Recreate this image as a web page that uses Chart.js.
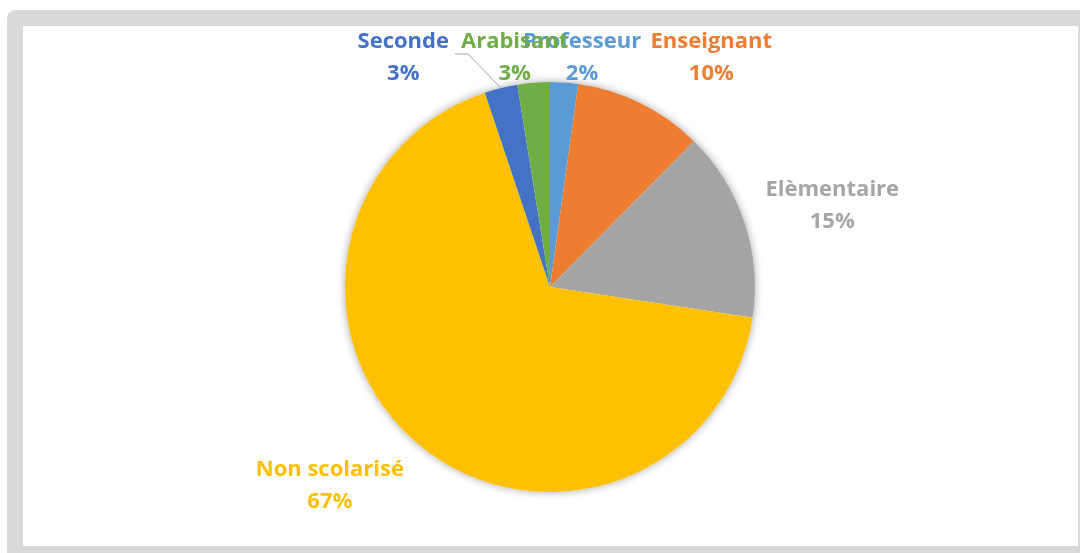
<!DOCTYPE html>
<html>
<head>
<meta charset="utf-8">
<script src="https://cdn.jsdelivr.net/npm/chart.js@4"></script>
<style>
    html, body { margin: 0; padding: 0; background: #fff; width: 1080px; height: 553px; overflow: hidden; }
    #frame { position: absolute; left: 7px; top: 10px; width: 1090px; height: 560px; background: #d9d9d9; border-radius: 8px; }
    #inner { position: absolute; left: 23px; top: 26px; width: 1055px; height: 520px; background: #fff; }
    #wrap { position: absolute; left: 0; top: 0; width: 1080px; height: 553px; }
</style>
</head>
<body>
<div id="frame"></div>
<div id="inner"></div>
<div id="wrap"><canvas id="pieChart"></canvas></div>
<script>
const categories = ['Professeur', 'Enseignant', 'Elèmentaire', 'Non scolarisé', 'Seconde', 'Arabisant'];
const shares = [2.2, 10.2, 15.0, 67.45, 2.6, 2.55];
const sliceColors = ['#5b9bd5', '#ed7d31', '#a5a5a5', '#ffc000', '#4472c4', '#70ad47'];

const labelFont = 'bold 22px "Open Sans"';
const lineGap = 32;

// soft shadow behind the pie, like the Excel one
const pieShadow = {
    id: 'pieShadow',
    beforeDatasetsDraw(chart) {
        const arc = chart.getDatasetMeta(0).data[0];
        if (!arc) return;
        const ctx = chart.ctx;
        ctx.save();
        ctx.shadowColor = 'rgba(0, 0, 0, 0.35)';
        ctx.shadowBlur = 9;
        ctx.fillStyle = '#fff';
        ctx.beginPath();
        ctx.arc(arc.x, arc.y, arc.outerRadius, 0, Math.PI * 2);
        ctx.fill();
        ctx.restore();
    }
};

// outside-end data labels with a very rough "best fit"
const outsideLabels = {
    id: 'outsideLabels',
    afterDraw(chart) {
        const ctx = chart.ctx;
        const meta = chart.getDatasetMeta(0);
        const values = chart.data.datasets[0].data;
        const total = values.reduce((a, b) => a + b, 0);
        const plotTop = 26;
        ctx.save();
        ctx.font = labelFont;
        const boxes = meta.data.map((arc, i) => {
            const lines = [chart.data.labels[i], Math.round(values[i] / total * 100) + '%'];
            const w = Math.max(...lines.map(t => ctx.measureText(t).width));
            const h = lineGap * 2;
            const mid = (arc.startAngle + arc.endAngle) / 2;
            const c = Math.cos(mid), s = Math.sin(mid);
            const r = arc.outerRadius + 22;
            const px = arc.x + r * c, py = arc.y + r * s;
            let cx = px + Math.sign(c) * Math.min(1, Math.abs(c) * 4) * w / 2;
            let cy = py + s * h / 2;
            if (cy - h / 2 < plotTop) cy = plotTop + h / 2;
            return { lines, w, h, cx, cy, mid, arc, moved: false };
        });
        // push a label back if it runs into the next one
        for (let i = 0; i < boxes.length - 1; i++) {
            const a = boxes[i], b = boxes[i + 1];
            const overlapY = Math.abs(a.cy - b.cy) < (a.h + b.h) / 2;
            const aRight = a.cx + a.w / 2, bLeft = b.cx - b.w / 2;
            if (overlapY && a.cx < b.cx && aRight > bLeft) {
                a.cx = bLeft - 12 - a.w / 2;
                a.moved = true;
            }
        }
        boxes.forEach((b, i) => {
            if (b.moved) {
                const ex = b.arc.x + b.arc.outerRadius * Math.cos(b.mid);
                const ey = b.arc.y + b.arc.outerRadius * Math.sin(b.mid);
                const sx = b.cx + b.w / 2 + 6, sy = b.cy - 4;
                ctx.strokeStyle = '#a6a6a6';
                ctx.lineWidth = 1;
                ctx.beginPath();
                ctx.moveTo(sx, sy);
                ctx.lineTo(sx + 13, sy);
                ctx.lineTo(ex, ey);
                ctx.stroke();
            }
            ctx.fillStyle = sliceColors[i];
            ctx.textAlign = 'center';
            ctx.textBaseline = 'middle';
            ctx.fillText(b.lines[0], b.cx, b.cy - lineGap / 2);
            ctx.fillText(b.lines[1], b.cx, b.cy + lineGap / 2);
        });
        ctx.restore();
    }
};

new Chart(document.getElementById('pieChart'), {
    type: 'pie',
    data: {
        labels: categories,
        datasets: [{
            data: shares,
            backgroundColor: sliceColors,
            borderWidth: 0
        }]
    },
    options: {
        responsive: true,
        maintainAspectRatio: false,
        animation: false,
        layout: {
            padding: { top: 82, bottom: 61, left: 300, right: 280 }
        },
        plugins: {
            legend: { display: false },
            tooltip: { enabled: false },
            title: { display: false }
        }
    },
    plugins: [pieShadow, outsideLabels]
});
</script>
</body>
</html>
